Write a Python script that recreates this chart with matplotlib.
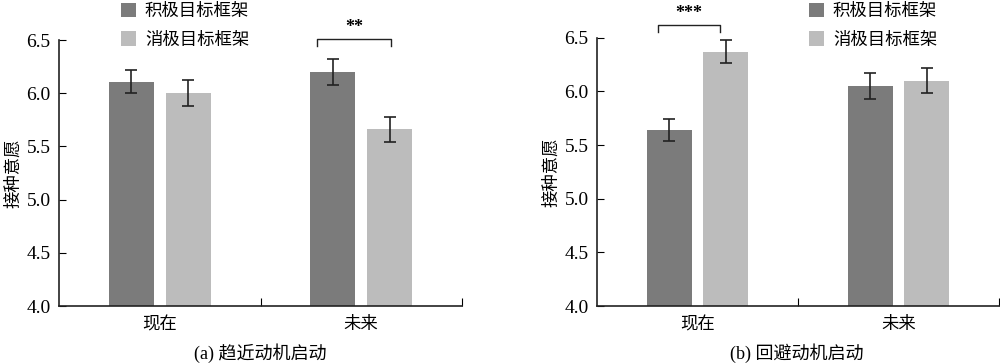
import matplotlib
matplotlib.use("Agg")
from matplotlib import pyplot as plt
import numpy as np

plt.rcParams['font.family'] = ['Liberation Serif', 'Noto Sans CJK SC']

groups = ["现在", "未来"]
series = ["积极目标框架", "消极目标框架"]

# (a) 趋近动机启动
a_pos = [6.11, 6.20]
a_pos_err = [0.11, 0.12]
a_neg = [6.00, 5.66]
a_neg_err = [0.12, 0.12]

# (b) 回避动机启动
b_pos = [5.64, 6.05]
b_pos_err = [0.105, 0.12]
b_neg = [6.37, 6.10]
b_neg_err = [0.105, 0.115]

dark = "#7b7b7b"
light = "#bcbcbc"


def panel(ax, pos, pos_err, neg, neg_err):
    x = np.arange(len(groups))
    w = 0.224
    ax.bar(x - 0.141, pos, w, color=dark, label=series[0])
    ax.bar(x + 0.141, neg, w, color=light, label=series[1])
    ax.errorbar(x - 0.141, pos, yerr=pos_err, fmt="none", ecolor="#222222",
                elinewidth=1.2, capsize=4, capthick=1.2)
    ax.errorbar(x + 0.141, neg, yerr=neg_err, fmt="none", ecolor="#222222",
                elinewidth=1.2, capsize=4, capthick=1.2)
    ax.set_xlim(-0.5, 1.5)
    ax.set_ylim(4.0, 6.5)
    ax.set_yticks([4.0, 4.5, 5.0, 5.5, 6.0, 6.5])
    ax.set_yticklabels(["4.0", "4.5", "5.0", "5.5", "6.0", "6.5"])
    ax.tick_params(axis="y", direction="in", length=5, labelsize=14, pad=6)
    ax.set_xticks([0.5, 1.5])
    ax.set_xticklabels([])
    ax.set_xticks([0, 1], minor=True)
    ax.set_xticklabels(groups, minor=True, fontsize=12.5)
    ax.tick_params(axis="x", which="major", direction="in", length=6)
    ax.tick_params(axis="x", which="minor", length=0, pad=8)
    for s in ["top", "right"]:
        ax.spines[s].set_visible(False)
    for s in ["left", "bottom"]:
        ax.spines[s].set_color("#222222")
        ax.spines[s].set_linewidth(1.2)
    ax.set_ylabel("接种意愿", fontsize=12.5, labelpad=3)


def bracket(ax, x0, x1, y, h, txt):
    ax.plot([x0, x0, x1, x1], [y - h, y, y, y - h], color="#222222", lw=1,
            clip_on=False)
    ax.text((x0 + x1) / 2, y + 0.03, txt, ha="center", va="bottom",
            fontsize=13, fontweight="bold", clip_on=False)


fig = plt.figure(figsize=(10, 3.64), dpi=100)
ax1 = fig.add_axes([0.059, 0.1593, 0.403, 0.7308])
ax2 = fig.add_axes([0.597, 0.1593, 0.402, 0.737])

panel(ax1, a_pos, a_pos_err, a_neg, a_neg_err)
panel(ax2, b_pos, b_pos_err, b_neg, b_neg_err)

bracket(ax1, 0.78, 1.15, 6.507, 0.065, "**")
bracket(ax2, -0.198, 0.112, 6.616, 0.065, "***")

for ax, bx in [(ax1, 0.105), (ax2, 0.793)]:
    h, l = ax.get_legend_handles_labels()
    fig.legend(h, l, loc="upper left", bbox_to_anchor=(bx, 1.035), frameon=False,
               fontsize=12.5, handlelength=0.9, handleheight=0.9,
               handletextpad=0.5, labelspacing=0.65)

fig.text(0.26, 0.03, "(a) 趋近动机启动", ha="center", va="center", fontsize=13)
fig.text(0.797, 0.03, "(b) 回避动机启动", ha="center", va="center", fontsize=13)

fig.savefig("out.png", dpi=100)
